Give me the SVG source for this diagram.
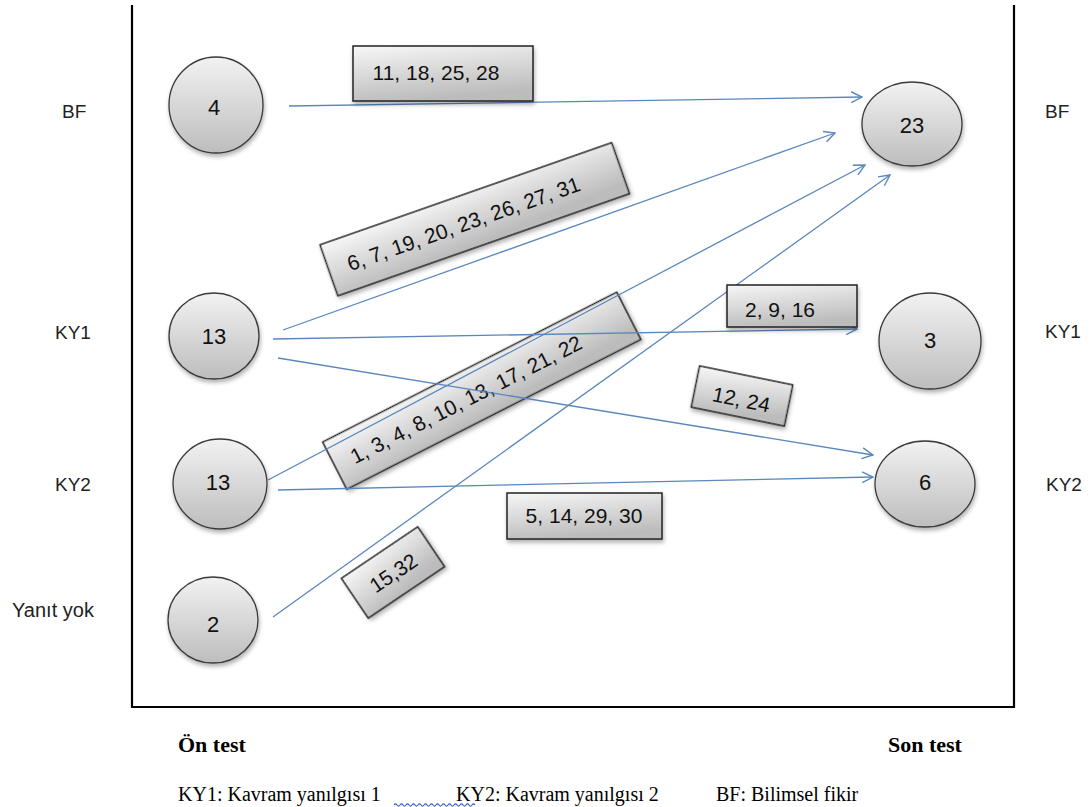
<svg xmlns="http://www.w3.org/2000/svg" width="1090" height="807" viewBox="0 0 1090 807">
<style>
.lbl{font-family:"Liberation Sans",Arial,sans-serif;font-size:19px;fill:#222}
.num{font-family:"Liberation Sans",Arial,sans-serif;font-size:21px;fill:#111;text-anchor:middle}
.nn{font-size:22px}
.ax{stroke:#000;stroke-width:2.2;fill:none}
.node{fill:url(#gc);stroke:#3a3a3a;stroke-width:1.3;filter:url(#sh)}
.box{fill:url(#gb);stroke:#222;stroke-width:1.5;filter:url(#sh)}
.con{stroke:#5a87bd;stroke-width:1.3;fill:none;marker-end:url(#ar)}
.bold{font-family:"Liberation Serif","Times New Roman",serif;font-size:22px;font-weight:bold;fill:#000}
.leg{font-family:"Liberation Serif","Times New Roman",serif;font-size:20px;fill:#000}
</style>
<defs>
<linearGradient id="gc" x1="0" y1="0" x2="0" y2="1">
<stop offset="0" stop-color="#f2f2f2"/><stop offset="1" stop-color="#bdbdbd"/>
</linearGradient>
<linearGradient id="gb" x1="0" y1="0" x2="0.3" y2="1">
<stop offset="0" stop-color="#f7f7f7"/><stop offset="1" stop-color="#bcbcbc"/>
</linearGradient>
<filter id="sh" x="-20%" y="-20%" width="140%" height="150%">
<feDropShadow dx="1" dy="3" stdDeviation="2" flood-color="#000" flood-opacity="0.3"/>
</filter>
<marker id="ar" viewBox="0 0 12 12" markerUnits="userSpaceOnUse" markerWidth="13" markerHeight="13" refX="11" refY="6" orient="auto">
<path d="M1,1 L11,6 L1,11" fill="none" stroke="#5a87bd" stroke-width="1.3"/>
</marker>
</defs>

<g id="axes">
<path class="ax" d="M132,5 V707 H1014 V5"/>
</g>

<g id="row-labels">
<text class="lbl" x="62" y="118">BF</text>
<text class="lbl" x="55" y="339">KY1</text>
<text class="lbl" x="55" y="491">KY2</text>
<text class="lbl" x="12" y="617" style="font-size:20px">Yanıt yok</text>
<text class="lbl" x="1045" y="118">BF</text>
<text class="lbl" x="1045" y="338">KY1</text>
<text class="lbl" x="1046" y="491">KY2</text>
</g>

<g id="box-1-3-4" transform="translate(481.75,390.75) rotate(-27)">
<rect class="box" x="-165" y="-26.5" width="330" height="53"/>
<text class="num" x="-18" y="8">1, 3, 4, 8, 10, 13, 17, 21, 22</text>
</g>

<g id="connectors">
<line class="con" x1="289" y1="106" x2="862" y2="97"/>
<line class="con" x1="283" y1="330" x2="835" y2="133"/>
<line class="con" x1="273" y1="339" x2="857" y2="329"/>
<line class="con" x1="278" y1="358" x2="873" y2="455"/>
<line class="con" x1="268" y1="480" x2="865" y2="165"/>
<line class="con" x1="278" y1="490" x2="873" y2="477"/>
<line class="con" x1="273" y1="617" x2="890" y2="175"/>
</g>

<g id="box-11-18">
<rect class="box" x="353" y="46" width="180" height="55"/>
<text class="num" x="436" y="80">11, 18, 25, 28</text>
</g>
<g id="box-6-7-19" transform="translate(474.75,219.25) rotate(-19.3)">
<rect class="box" x="-154.5" y="-27" width="309" height="54"/>
<text class="num" x="-12" y="8">6, 7, 19, 20, 23, 26, 27, 31</text>
</g>
<g id="box-2-9-16">
<rect class="box" x="727" y="285" width="130" height="42"/>
<text class="num" x="780" y="317">2, 9, 16</text>
</g>
<g id="box-12-24" transform="translate(742,396) rotate(11.5)">
<rect class="box" x="-47.5" y="-21" width="95" height="42"/>
<text class="num" x="0" y="11">12, 24</text>
</g>
<g id="box-5-14">
<rect class="box" x="507" y="493" width="155" height="46"/>
<text class="num" x="584" y="523">5, 14, 29, 30</text>
</g>
<g id="box-15-32" transform="translate(393,572.5) rotate(-34)">
<rect class="box" x="-46" y="-24" width="92" height="48"/>
<text class="num" x="0" y="8">15,32</text>
</g>

<g id="pre-bf"><ellipse class="node" cx="216" cy="105" rx="47" ry="48"/><text class="num nn" x="214" y="115">4</text></g>
<g id="pre-ky1"><ellipse class="node" cx="214" cy="336" rx="45" ry="43"/><text class="num nn" x="214" y="344">13</text></g>
<g id="pre-ky2"><ellipse class="node" cx="220" cy="484" rx="47" ry="45"/><text class="num nn" x="218" y="490">13</text></g>
<g id="pre-none"><ellipse class="node" cx="213" cy="620" rx="45" ry="43"/><text class="num nn" x="213" y="632">2</text></g>
<g id="post-bf"><ellipse class="node" cx="912" cy="124" rx="50" ry="42"/><text class="num nn" x="912" y="133">23</text></g>
<g id="post-ky1"><ellipse class="node" cx="930" cy="341" rx="51" ry="48"/><text class="num nn" x="930" y="348">3</text></g>
<g id="post-ky2"><ellipse class="node" cx="925" cy="484" rx="50" ry="43"/><text class="num nn" x="925" y="490">6</text></g>

<g id="footer">
<text class="bold" x="178" y="752">Ön test</text>
<text class="bold" x="888" y="752">Son test</text>
<text class="leg" x="178" y="801">KY1: Kavram yanılgısı 1</text>
<text class="leg" x="456" y="801">KY2: Kavram yanılgısı 2</text>
<text class="leg" x="716" y="801">BF: Bilimsel fikir</text>
<path d="M394,805 q1.5,-2.2 3,0 t3,0 t3,0 t3,0 t3,0 t3,0 t3,0 t3,0 t3,0 t3,0 t3,0 t3,0 t3,0 t3,0 t3,0 t3,0 t3,0 t3,0 t3,0 t3,0 t3,0 t3,0 t3,0 t3,0 t3,0 t3,0 t3,0" fill="none" stroke="#3b5bd6" stroke-width="1.1"/>
</g>
</svg>
